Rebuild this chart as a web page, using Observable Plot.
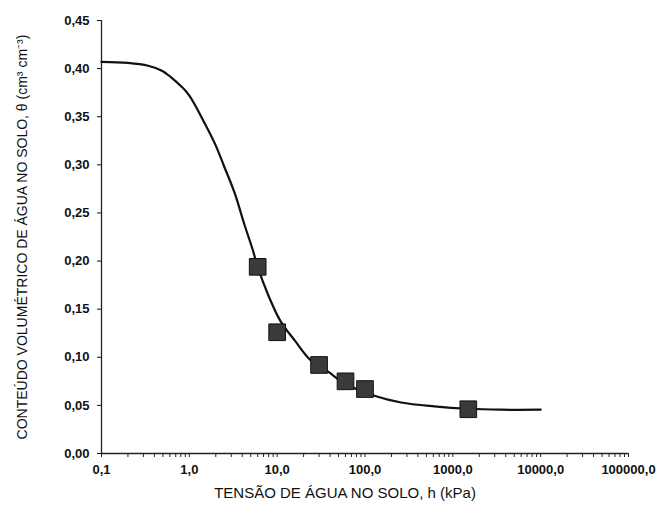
<!DOCTYPE html>
<html>
<head>
<meta charset="utf-8">
<script src="https://cdn.jsdelivr.net/npm/d3@7"></script>
<script src="https://cdn.jsdelivr.net/npm/@observablehq/plot@0.6"></script>
<style>
  html, body { margin: 0; padding: 0; background: #fff; }
  #chart svg { display: block; }
</style>
</head>
<body>
<div id="chart"></div>
<script>
// Measured retention points: tension h (kPa) and volumetric water content θ
const tension = [6, 10, 30, 60, 100, 1500];
const waterContent = [0.194, 0.126, 0.092, 0.075, 0.067, 0.046];

// Fitted retention curve, sampled along h
const curveTension = [0.1, 0.2, 0.34, 0.48, 0.62, 0.8, 1.0, 1.5, 2.0, 2.5, 3.3, 4.2, 5.3, 6.0, 7.8, 11, 16, 24, 38, 58, 128, 258, 617, 1480, 3550, 10000];
const curveContent = [0.407, 0.406, 0.403, 0.398, 0.391, 0.382, 0.372, 0.343, 0.320, 0.298, 0.270, 0.239, 0.211, 0.194, 0.166, 0.137, 0.117, 0.097, 0.085, 0.073, 0.060, 0.053, 0.049, 0.0465, 0.0455, 0.0455];

// Axis ticks
const xMajorTicks = [0.1, 1, 10, 100, 1000, 10000, 100000];
const yTicks = [0, 0.05, 0.10, 0.15, 0.20, 0.25, 0.30, 0.35, 0.40, 0.45];

const xTitle = "TENSÃO DE ÁGUA NO SOLO, h (kPa)";
const yTitle = "CONTEÚDO VOLUMÉTRICO DE ÁGUA NO SOLO, θ (cm³ cm⁻³)";

const points = tension.map((h, i) => ({h, theta: waterContent[i]}));
const curve = curveTension.map((h, i) => ({h, theta: curveContent[i]}));
const xMinorTicks = d3.scaleLog().domain([0.1, 100000]).ticks();

const comma = (s) => s.replace(".", ",");
const font = "'Liberation Sans', Arial, sans-serif";

const chart = Plot.plot({
  width: 656,
  height: 512,
  marginLeft: 101,
  marginRight: 28,
  marginTop: 20,
  marginBottom: 59,
  style: {fontFamily: font, fontSize: "13px", color: "#111", background: "#fff"},
  x: {type: "log", domain: [0.1, 100000]},
  y: {domain: [0, 0.45]},
  marks: [
    Plot.ruleY([0], {stroke: "#222", strokeWidth: 1.3}),
    Plot.ruleX([0.1], {stroke: "#222", strokeWidth: 1.3}),
    Plot.axisX({
      ticks: xMinorTicks,
      tickSize: 4,
      tickFormat: () => "",
      label: null,
      stroke: "#222"
    }),
    Plot.axisX({
      ticks: xMajorTicks,
      tickSize: 0,
      tickPadding: 11,
      tickFormat: (d) => comma(d3.format(".1f")(d)),
      label: null,
      fontWeight: "bold",
      fontSize: 13
    }),
    Plot.axisY({
      ticks: yTicks,
      tickSize: 4,
      tickPadding: 8,
      tickFormat: (d) => comma(d3.format(".2f")(d)),
      label: null,
      fontWeight: "bold",
      fontSize: 13
    }),
    Plot.line(curve, {x: "h", y: "theta", stroke: "#111", strokeWidth: 2.2, curve: "catmull-rom"}),
    Plot.dot(points, {x: "h", y: "theta", symbol: "square", r: 9.4, fill: "#3a3a3a", stroke: "#111", strokeWidth: 1}),
    Plot.text([xTitle], {frameAnchor: "bottom", textAnchor: "middle", dx: -20, dy: 44, fontSize: 15, fill: "#111", text: (d) => d}),
    Plot.text([yTitle], {frameAnchor: "left", textAnchor: "middle", rotate: -90, dx: -79, fontSize: 14, fill: "#111", text: (d) => d})
  ]
});

document.getElementById("chart").appendChild(chart);
</script>
</body>
</html>
